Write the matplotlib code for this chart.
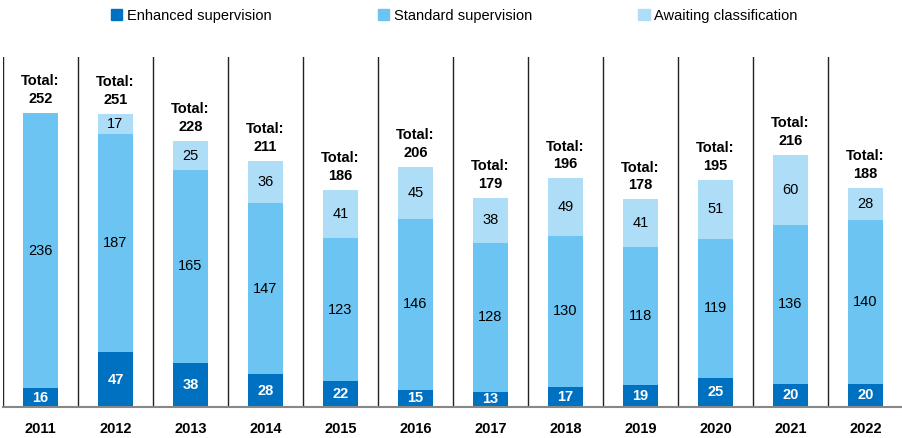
import numpy as np
import matplotlib.pyplot as plt
from matplotlib.patches import Patch

plt.rcParams["font.family"] = ["Liberation Sans", "DejaVu Sans"]

years = ["2011", "2012", "2013", "2014", "2015", "2016",
         "2017", "2018", "2019", "2020", "2021", "2022"]
enhanced = [16, 47, 38, 28, 22, 15, 13, 17, 19, 25, 20, 20]
standard = [236, 187, 165, 147, 123, 146, 128, 130, 118, 119, 136, 140]
awaiting = [0, 17, 25, 36, 41, 45, 38, 49, 41, 51, 60, 28]

c_enh = "#0070C0"
c_std = "#6BC4F1"
c_awt = "#AEDEF7"

fig = plt.figure(figsize=(9.03, 4.38), dpi=100)
ax = fig.add_axes([3 / 903, 31 / 438, 900 / 903, 350 / 438])

x = np.arange(len(years))
enh = np.array(enhanced)
std = np.array(standard)
awt = np.array(awaiting)
w = 0.47

ax.bar(x, enh, w, color=c_enh)
ax.bar(x, std, w, bottom=enh, color=c_std)
ax.bar(x, awt, w, bottom=enh + std, color=c_awt)

for i in range(len(years)):
    ax.text(x[i], enh[i] / 2, str(enh[i]), ha="center", va="center",
            color="white", fontsize=10.5, fontweight="bold")
    ax.text(x[i], enh[i] + std[i] / 2, str(std[i]), ha="center", va="center",
            color="black", fontsize=10.5)
    if awt[i] > 0:
        ax.text(x[i], enh[i] + std[i] + awt[i] / 2, str(awt[i]), ha="center",
                va="center", color="black", fontsize=10.5)
    total = enh[i] + std[i] + awt[i]
    ax.annotate("Total:\n%d" % total, (x[i], total), xytext=(0, 5),
                textcoords="offset points", ha="center", va="bottom",
                fontsize=10.5, fontweight="bold", linespacing=1.35)

for s in np.arange(-0.5, 11.0, 1.0):
    ax.axvline(s, color="#222222", linewidth=1.0)

ax.set_xlim(-0.5, 11.5)
ax.set_ylim(0, 300)
for sp in ["top", "right", "left"]:
    ax.spines[sp].set_visible(False)
ax.spines["bottom"].set_color("#888888")
ax.spines["bottom"].set_linewidth(1.5)
ax.set_yticks([])
ax.set_xticks(x)
ax.set_xticklabels(years, fontweight="bold", fontsize=10.5)
ax.tick_params(axis="x", length=0, pad=11)

handles = [Patch(color=c_enh), Patch(color=c_std), Patch(color=c_awt)]
fig.legend(handles, ["Enhanced supervision", "Standard supervision", "Awaiting classification"],
           loc="upper center", bbox_to_anchor=(0.503, 1.01), ncol=3, frameon=False,
           fontsize=10.5, handlelength=0.8, handleheight=0.8, handletextpad=0.3,
           columnspacing=7.3)

fig.savefig("out.png", dpi=100)
